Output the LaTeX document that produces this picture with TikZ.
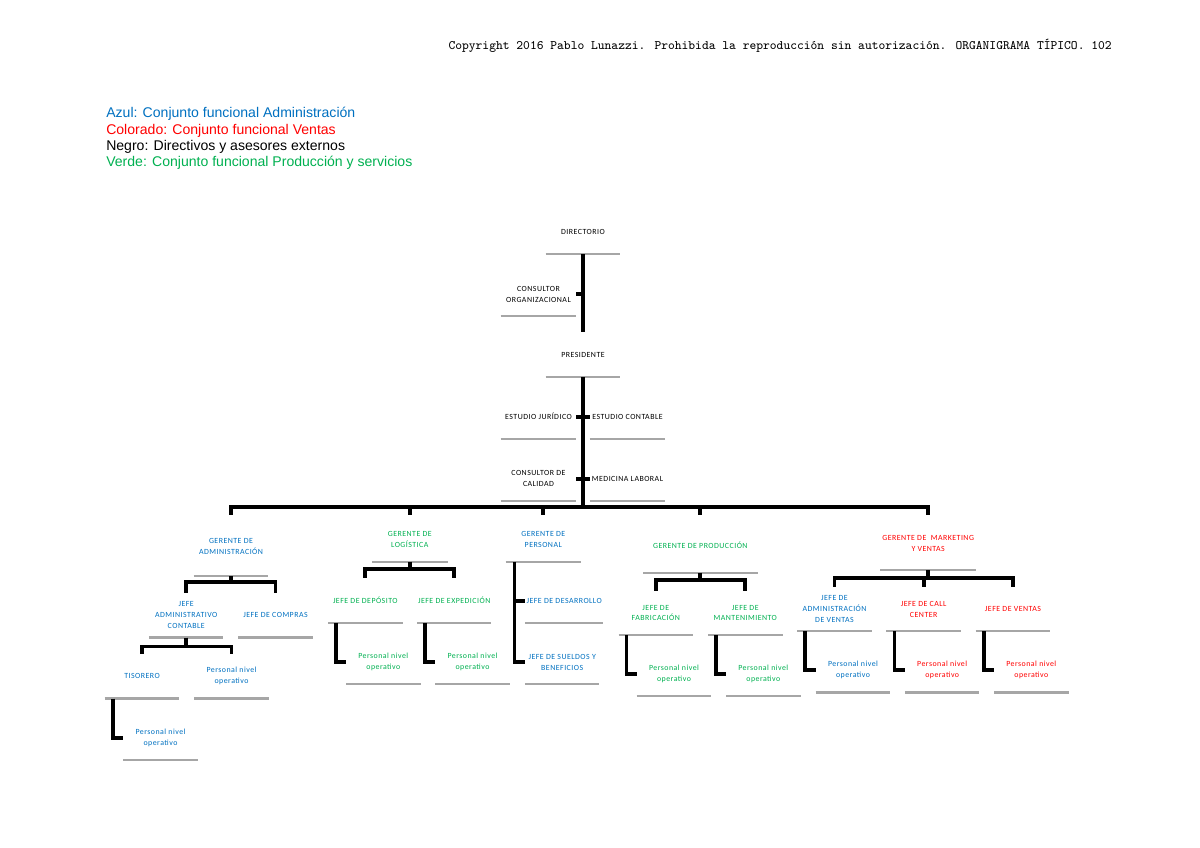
\documentclass[tikz,border=0pt]{standalone}
\usepackage{fontspec}
\setmainfont{Liberation Sans}
\newfontfamily\orgfont[LetterSpace=6]{Carlito}
\usetikzlibrary{calc}
\definecolor{cAzul}{HTML}{0070C0}
\definecolor{cRojo}{HTML}{FF0000}
\definecolor{cVerde}{HTML}{00B050}
\definecolor{cGris}{HTML}{A6A6A6}
\tikzset{
  puesto/.style={
    text=#1, font=\orgfont\fontsize{5.6}{7.8}\selectfont, align=center,
    inner sep=0pt, minimum width=18.5mm, minimum height=11mm,
    append after command={(\tikzlastnode.south west) edge[raya] (\tikzlastnode.south east)},
  },
  puesto/.default=black,
  raya/.style={draw=cGris, line width=1.7pt},
  enlace/.style={draw=black, line width=2.6pt},
  leyenda/.style={anchor=base west, inner sep=0pt, font=\fontsize{10}{12}\selectfont, text=#1},
}

\begin{document}
\begin{tikzpicture}[x=0.25mm, y=-0.25mm]
  \useasboundingbox (0,0) rectangle (1200,848);

  % encabezado
  \node[anchor=base east, inner sep=0pt, font=\ttfamily\fontsize{9.2}{11}\selectfont]
    (copyright) at (1112,50)
    {Copyright 2016 Pablo Lunazzi. Prohibida la reproducción sin autorización. ORGANIGRAMA TÍPICO. 102};

  % referencias de color
  \node[leyenda=cAzul] (ley1) at (106,118) {Azul: Conjunto funcional Administración};
  \node[leyenda=cRojo] (ley2) at (106,134.3) {Colorado: Conjunto funcional Ventas};
  \node[leyenda=black] (ley3) at (106,150.6) {Negro: Directivos y asesores externos};
  \node[leyenda=cVerde] (ley4) at (106,167) {Verde: Conjunto funcional Producción y servicios};

  % directivos y asesores
  \node[puesto] (directorio) at (583,232) {DIRECTORIO};
  \node[puesto, minimum width=18.75mm] (consultorOrg) at (538.5,294) {CONSULTOR\\ORGANIZACIONAL};
  \node[puesto] (presidente) at (583,354.7) {PRESIDENTE};
  \node[puesto, minimum width=18.75mm] (estJuridico) at (538.5,416.7) {ESTUDIO JURÍDICO};
  \node[puesto, minimum width=18.75mm] (estContable) at (627.5,416.7) {ESTUDIO CONTABLE};
  \node[puesto, minimum width=18.75mm] (consCalidad) at (538.5,478.7) {CONSULTOR DE\\CALIDAD};
  \node[puesto, minimum width=18.75mm] (medLaboral) at (627.5,478.7) {MEDICINA LABORAL};

  \draw[enlace] (directorio.south) -- (presidente.north);
  \draw[enlace] (consultorOrg.east) -- (consultorOrg.east -| directorio.south);
  \draw[enlace] (estJuridico.east) -- (estContable.west);
  \draw[enlace] (consCalidad.east) -- (medLaboral.west);

  % gerencias
  \node[puesto=cAzul, minimum height=14.65mm] (gAdm) at (231,546.7) {GERENTE DE\\ADMINISTRACIÓN};
  \node[puesto=cVerde, minimum width=18.75mm, minimum height=11.35mm] (gLog) at (409.8,539) {GERENTE DE\\LOGÍSTICA};
  \node[puesto=cAzul, minimum width=18.75mm, minimum height=11.35mm] (gPers) at (543.3,539) {GERENTE DE\\PERSONAL};
  \node[puesto=cVerde, minimum width=28.5mm, minimum height=13.85mm] (gProd) at (700.3,545) {GERENTE DE PRODUCCIÓN};
  \node[puesto=cRojo, minimum width=23.75mm, minimum height=13.35mm] (gMkt) at (928.2,543.3) {GERENTE DE\ \ MARKETING\\Y VENTAS};

  \coordinate (bar) at (583,507);
  \coordinate (drop) at (0,515);
  \draw[enlace] (presidente.south) -- (bar);
  \draw[enlace] (bar) -| (gAdm |- drop);
  \draw[enlace] (bar) -| (gLog |- drop);
  \draw[enlace] (bar) -| (gPers |- drop);
  \draw[enlace] (bar) -| (gProd |- drop);
  \draw[enlace] (bar) -| (gMkt |- drop);

  % administracion
  \node[puesto=cAzul] (jAdmCont) at (186.2,615.3) {JEFE\\ADMINISTRATIVO\\CONTABLE};
  \node[puesto=cAzul] (jCompras) at (275.5,615.3) {JEFE DE COMPRAS};
  \node[puesto=cAzul] (tesorero) at (142,676.3) {TISORERO};
  \node[puesto=cAzul] (pAdm) at (231.5,676.3) {Personal nivel\\operativo};
  \node[puesto=cAzul] (pTesorero) at (160.5,738) {Personal nivel\\operativo};

  \draw[enlace] (gAdm.south) -- ++(0,6) -| (jAdmCont.north);
  \draw[enlace] (gAdm.south) -- ++(0,6) -| (jCompras.north);
  \draw[enlace] (jAdmCont.south) -- ++(0,9) -| (tesorero.north);
  \draw[enlace] (jAdmCont.south) -- ++(0,9) -| (pAdm.north);
  \draw[enlace] ([xshift=2mm]tesorero.south west) |- (pTesorero.west);

  % logistica
  \node[puesto=cVerde] (jDeposito) at (365.3,600.7) {JEFE DE DEPÓSITO};
  \node[puesto=cVerde] (jExpedicion) at (454.2,600.7) {JEFE DE EXPEDICIÓN};
  \node[puesto=cVerde] (pDeposito) at (383.3,662) {Personal nivel\\operativo};
  \node[puesto=cVerde] (pExpedicion) at (472.5,662) {Personal nivel\\operativo};

  \draw[enlace] (gLog.south) -- ++(0,7) -| (jDeposito.north);
  \draw[enlace] (gLog.south) -- ++(0,7) -| (jExpedicion.north);
  \draw[enlace] ([xshift=2mm]jDeposito.south west) |- (pDeposito.west);
  \draw[enlace] ([xshift=2mm]jExpedicion.south west) |- (pExpedicion.west);

  % personal
  \node[puesto=cAzul, minimum width=19.5mm] (jDesarrollo) at (564.2,600.7) {JEFE DE DESARROLLO};
  \node[puesto=cAzul] (jSueldos) at (562.2,662) {JEFE DE SUELDOS Y\\BENEFICIOS};

  \draw[enlace] ([xshift=2.25mm]gPers.south west) |- (jSueldos.west);
  \draw[enlace] ([xshift=2.25mm]gPers.south west) |- (jDesarrollo.west);

  % produccion
  \node[puesto=cVerde] (jFabricacion) at (655.8,613) {JEFE DE\\FABRICACIÓN};
  \node[puesto=cVerde] (jMantenimiento) at (745.3,613) {JEFE DE\\MANTENIMIENTO};
  \node[puesto=cVerde] (pFabricacion) at (674,673.7) {Personal nivel\\operativo};
  \node[puesto=cVerde] (pMantenimiento) at (763.3,673.7) {Personal nivel\\operativo};

  \draw[enlace] (gProd.south) -- ++(0,7) -| (jFabricacion.north);
  \draw[enlace] (gProd.south) -- ++(0,7) -| (jMantenimiento.north);
  \draw[enlace] ([xshift=2mm]jFabricacion.south west) |- (pFabricacion.west);
  \draw[enlace] ([xshift=2mm]jMantenimiento.south west) |- (pMantenimiento.west);

  % marketing y ventas
  \node[puesto=cAzul] (jAdmVentas) at (834.5,609) {JEFE DE\\ADMINISTRACIÓN\\DE VENTAS};
  \node[puesto=cRojo] (jCallCenter) at (923.7,609) {JEFE DE CALL\\CENTER};
  \node[puesto=cRojo] (jVentas) at (1013,609) {JEFE DE VENTAS};
  \node[puesto=cAzul] (pAdmVentas) at (853,670.3) {Personal nivel\\operativo};
  \node[puesto=cRojo] (pCallCenter) at (942.2,670.3) {Personal nivel\\operativo};
  \node[puesto=cRojo] (pVentas) at (1031.3,670.3) {Personal nivel\\operativo};

  \draw[enlace] (gMkt.south) -- ++(0,8) -| (jAdmVentas.north);
  \draw[enlace] (gMkt.south) -- ++(0,8) -| (jCallCenter.north);
  \draw[enlace] (gMkt.south) -- ++(0,8) -| (jVentas.north);
  \draw[enlace] ([xshift=2mm]jAdmVentas.south west) |- (pAdmVentas.west);
  \draw[enlace] ([xshift=2mm]jCallCenter.south west) |- (pCallCenter.west);
  \draw[enlace] ([xshift=2mm]jVentas.south west) |- (pVentas.west);

\end{tikzpicture}
\end{document}
